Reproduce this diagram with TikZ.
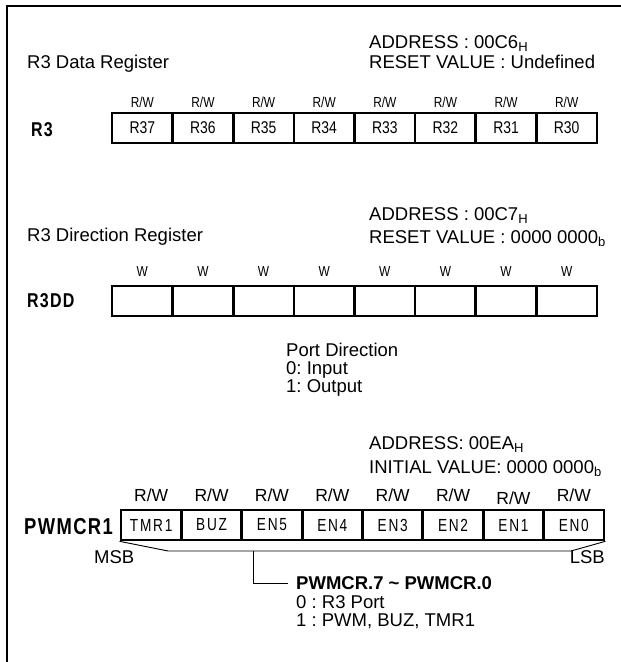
\documentclass[tikz,border=0pt]{standalone}
\usepackage{fontspec}
\setmainfont{Liberation Sans}
\newfontfamily\narrowfont[FakeStretch=0.82]{Liberation Sans}
\newfontfamily\narrowsp[FakeStretch=0.78,LetterSpace=10]{Liberation Sans}
\newfontfamily\labelfont[FakeStretch=0.8,LetterSpace=6]{Liberation Sans}
\newcommand\regsub[1]{\raisebox{-0.15em}{\fontsize{13}{13}\selectfont #1}}
\frenchspacing
\tikzset{
  txt/.style={font=\fontsize{18.5}{20}\selectfont, inner sep=0pt, anchor=base west},
  btxt/.style={txt, font=\fontsize{18.5}{20}\selectfont\bfseries},
  accA/.style={font=\narrowfont\fontsize{14.5}{14.5}\selectfont, inner sep=0pt},
  accB/.style={font=\fontsize{17.5}{18}\selectfont, inner sep=0pt},
  cellA/.style={draw, line width=2.6pt, minimum width=60.625pt, minimum height=30pt, inner sep=0pt, font=\narrowfont\fontsize{17}{17}\selectfont},
  cellB/.style={cellA, font=\narrowsp\fontsize{17.5}{17.5}\selectfont},
  regname/.style={font=\labelfont\bfseries\fontsize{20}{20}\selectfont, inner sep=0pt, anchor=west},
  thinline/.style={line width=0.9pt},
  frame/.style={line width=2.6pt}
}
\begin{document}
\begin{tikzpicture}[x=1pt,y=-1pt]
\useasboundingbox (0,0) rectangle (621,662);
% frame
\coordinate (fbl) at (7,663);
\coordinate (ftl) at (7,6);
\coordinate (ftr) at (622,6);
\draw[frame] (fbl) -- (ftl) -- (ftr);

% ---------- R3 data register ----------
\node[txt] (t1) at (27,68.5) {R3 Data Register};
\node[txt] (a1) at (369,48.5) {ADDRESS : 00C6\regsub{H}};
\node[txt] (v1) at (369,68.5) {RESET VALUE : Undefined};
\node[regname] (n1) at (31,130) {R3};
\foreach \t [count=\i from 0] in {R37,R36,R35,R34,R33,R32,R31,R30} {
  \node[cellA] (a\i) at ({112+60.625*(\i+0.5)},128) {\t};
  \node[accA] (ra\i) at ({112+60.625*(\i+0.5)},102) {R/W};
}

% ---------- R3 direction register ----------
\node[txt] (t2) at (27,241.5) {R3 Direction Register};
\node[txt] (a2) at (369,220.5) {ADDRESS : 00C7\regsub{H}};
\node[txt] (v2) at (369,243.5) {RESET VALUE : 0000 0000\regsub{b}};
\node[regname] (n2) at (27,301) {R3DD};
\foreach \i in {0,...,7} {
  \node[cellA] (d\i) at ({112+60.625*(\i+0.5)},301) {};
  \node[accA] (rd\i) at ({112+60.625*(\i+0.5)},272) {W};
}
\node[txt] (pd1) at (286,356.5) {Port Direction};
\node[txt] (pd2) at (286,374.5) {0: Input};
\node[txt] (pd3) at (286,392.5) {1: Output};

% ---------- PWMCR1 ----------
\node[txt] (a3) at (369,449.5) {ADDRESS: 00EA\regsub{H}};
\node[txt] (v3) at (369,473.5) {INITIAL VALUE: 0000 0000\regsub{b}};
\node[regname, font=\labelfont\bfseries\fontsize{23}{23}\selectfont] (n3) at (24,527) {PWMCR1};
\foreach \t [count=\i from 0] in {TMR1,BUZ,EN5,EN4,EN3,EN2,EN1,EN0} {
  \node[cellB] (p\i) at ({121+60.375*(\i+0.5)},525) {\t};
}
\foreach \i in {0,1,2,3,4,5,7} {
  \node[accB] (rp\i) at ({121+60.375*(\i+0.5)},495) {R/W};
}
\node[accB] (rp6) at ({121+60.375*6.5},498) {R/W};
\node[txt] (msb) at (94,563.5) {MSB};
\node[txt, anchor=base east] (lsb) at (605,563.5) {LSB};
\coordinate (k1) at (168,551);
\coordinate (k2) at (571,551);
\draw[thinline] (p0.south west) -- (k1) -- (k2) -- (p7.south east);
\coordinate (kv) at (253,551);
\coordinate (kb) at (253,583);
\coordinate (ke) at (288,583);
\draw[thinline] (kv) -- (kb) -- (ke);
\node[btxt] (pw1) at (296,589.5) {PWMCR.7 \char`~\ PWMCR.0};
\node[txt] (pw2) at (296,608) {0 : R3 Port};
\node[txt] (pw3) at (296,626) {1 : PWM, BUZ, TMR1};
\end{tikzpicture}
\end{document}
